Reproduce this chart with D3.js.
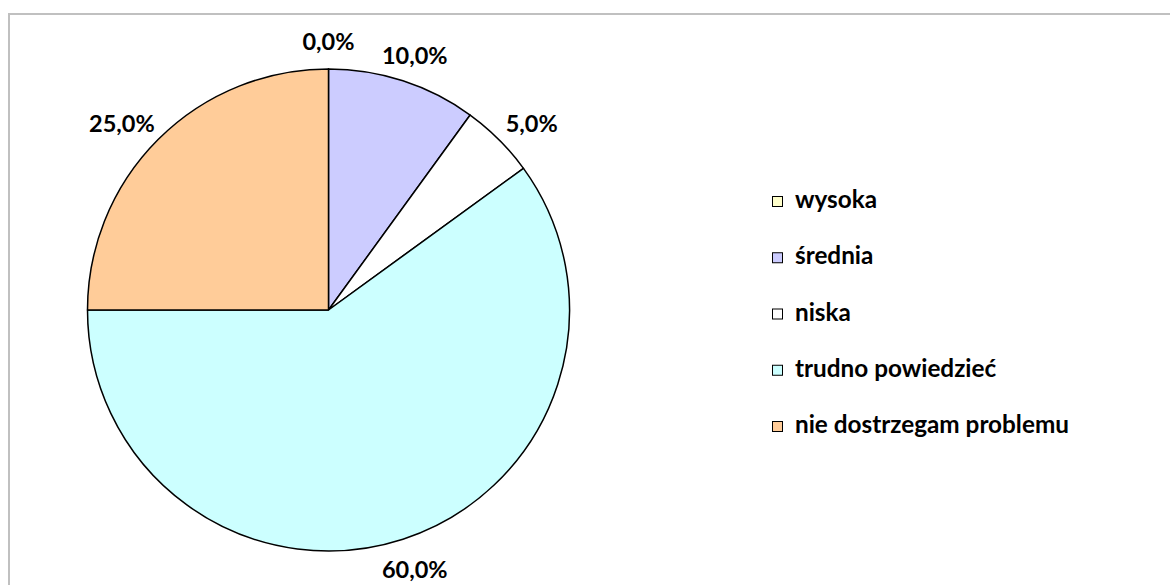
<!DOCTYPE html>
<html>
<head>
<meta charset="utf-8">
<script src="https://cdn.jsdelivr.net/npm/d3@7"></script>
<style>
html,body{margin:0;padding:0;background:#fff}
svg{display:block}
</style>
</head>
<body>
<svg width="1170" height="585"></svg>
<script>
const categories=["wysoka","średnia","niska","trudno powiedzieć","nie dostrzegam problemu"]
const values=[0.0,10.0,5.0,60.0,25.0]
const labels=["0,0%","10,0%","5,0%","60,0%","25,0%"]
const colors=["#FFFFCC","#CCCCFF","#FFFFFF","#CCFFFF","#FFCC99"]

const svg=d3.select("svg")
const font="Lato, 'Open Sans', sans-serif"

// frame (only top and left visible)
svg.append("rect").attr("x",9).attr("y",14).attr("width",1200).attr("height",600)
.attr("fill","none").attr("stroke","#c0c0c0").attr("stroke-width",2)

const cx=328.5,cy=310,r=241
const g=svg.append("g").attr("transform",`translate(${cx},${cy})`)
const pie=d3.pie().sort(null).value(d=>d)
const arcs=pie(values)
const arc=d3.arc().innerRadius(0).outerRadius(r)

g.selectAll("path.slice").data(arcs).enter().append("path")
.attr("class","slice")
.attr("d",arc)
.attr("fill",(d,i)=>colors[i])
.attr("stroke","#000").attr("stroke-width",1.5).attr("stroke-linejoin","round")

// labels: box pushed outward from an anchor ring
const R0=257
g.selectAll("text.lbl").data(arcs).enter().append("text")
.attr("class","lbl")
.attr("text-anchor","middle").attr("dominant-baseline","central")
.attr("font-family",font).attr("font-weight","bold").attr("font-size",23.5)
.attr("fill","#000")
.text((d,i)=>labels[i])
.each(function(d){
const a=(d.startAngle+d.endAngle)/2
const dx=Math.sin(a),dy=-Math.cos(a)
const b=this.getBBox()
const x=dx*(R0+12+b.width/2*Math.abs(dx))
const y=dy*(R0+b.height/2*Math.abs(dy))+2
d3.select(this).attr("transform",`translate(${x},${y})`)
})

// legend
const lg=svg.append("g").attr("transform","translate(772,0)")
const rowY=d3.scalePoint().domain(categories).range([208,433])
categories.forEach((c,i)=>{
const y=rowY(c)
lg.append("rect").attr("x",0.5).attr("y",y-11.5).attr("width",10).attr("height",10)
.attr("fill",colors[i]).attr("stroke","#000").attr("stroke-width",1)
lg.append("text").attr("x",23).attr("y",y)
.attr("font-family",font).attr("font-weight","bold").attr("font-size",24.3)
.attr("fill","#000").text(c)
})
</script>
</body>
</html>
